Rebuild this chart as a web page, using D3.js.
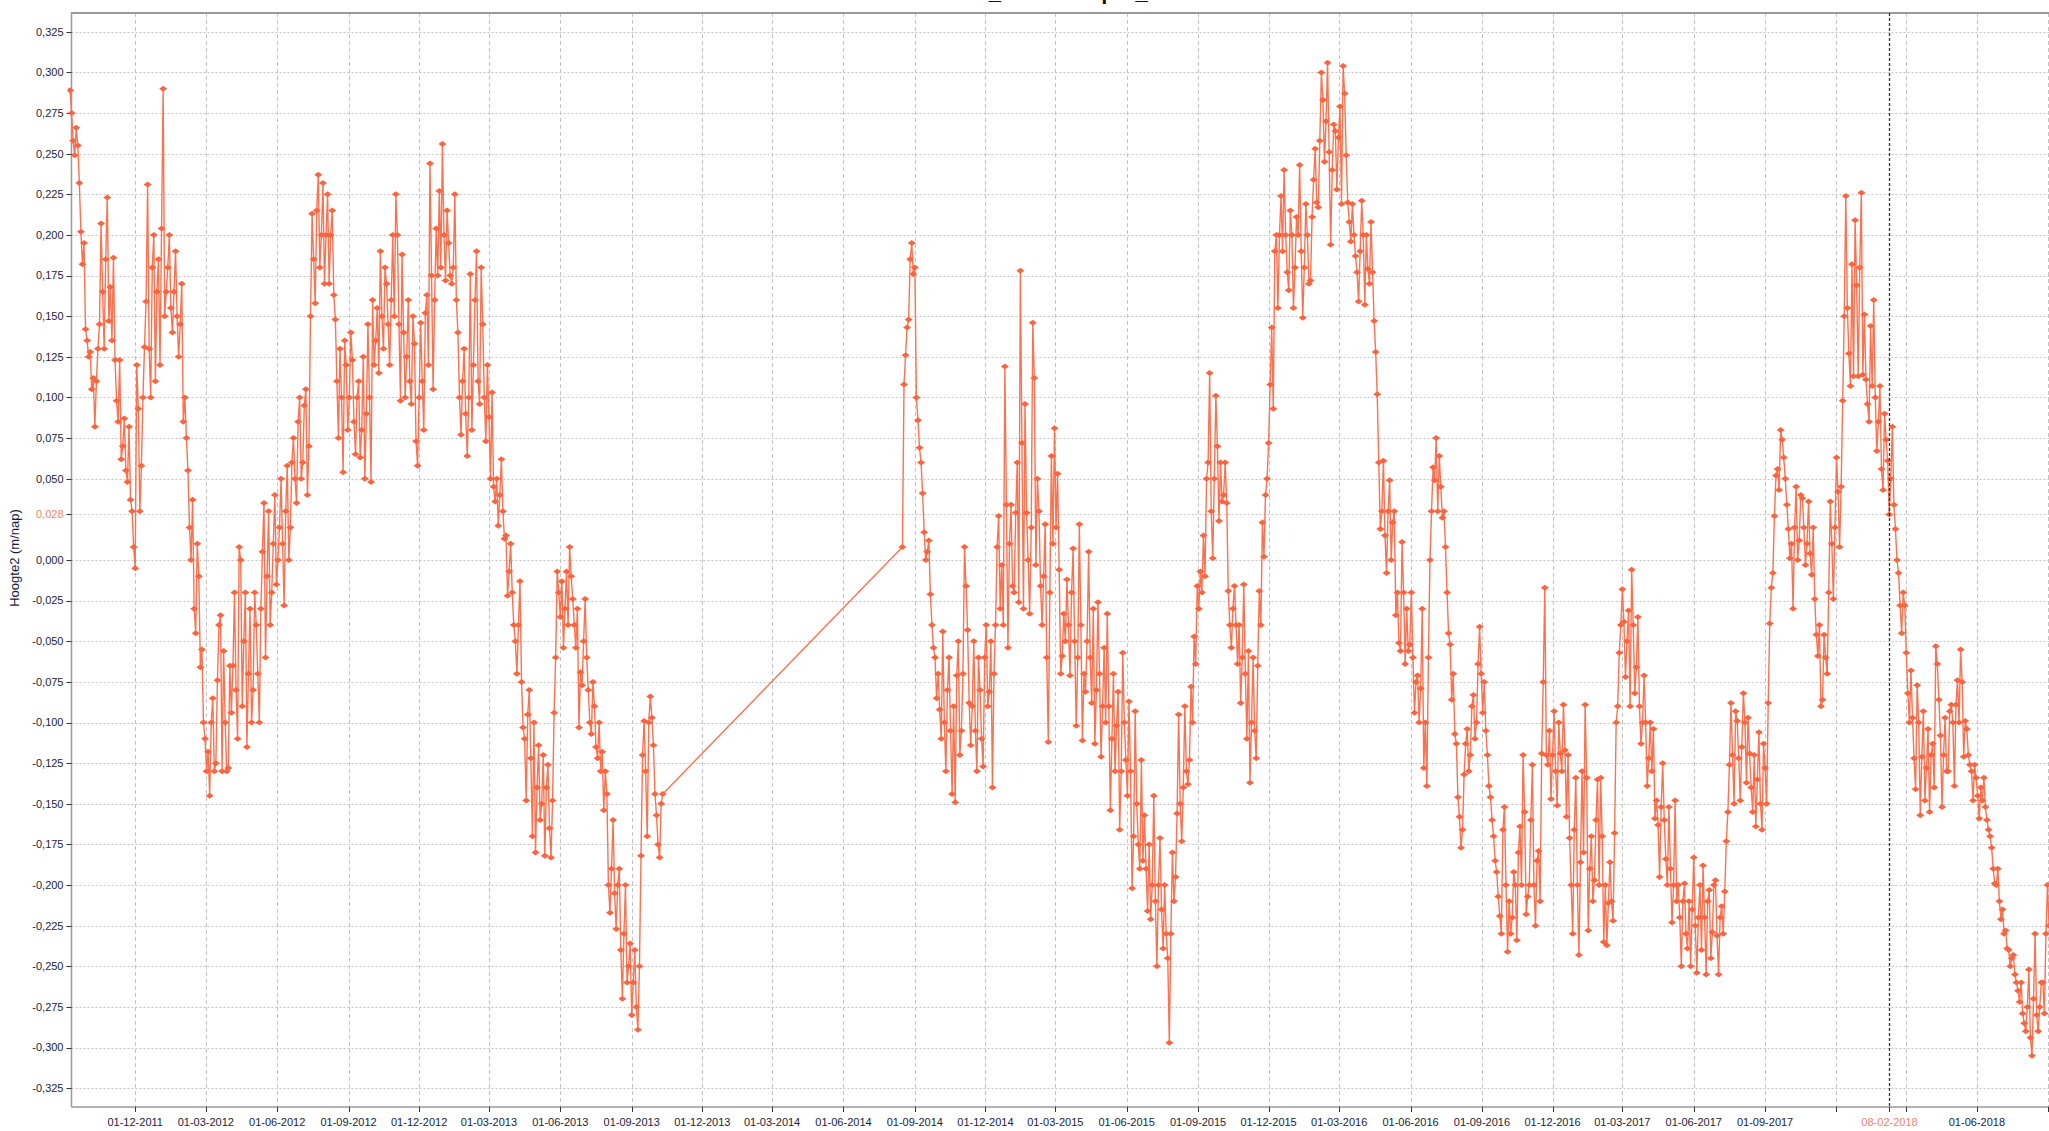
<!DOCTYPE html>
<html>
<head>
<meta charset="utf-8">
<script src="https://cdn.jsdelivr.net/npm/d3@7"></script>
<style>
  html, body { margin: 0; padding: 0; background: #ffffff; }
  svg { display: block; }
</style>
</head>
<body>
<svg id="chart" width="2049" height="1131"></svg>
<script>
// ---------------- DATA ----------------
const titleText = "Grondwaterstand_DE HOEKput_1";
const yAxisLabel = "Hoogte2 (m/nap)";
const SAMPLE_DAYS = 4;

// Series part 1: readings every 4 days from 2011-09-08
const seriesAStart = "2011-09-08";
const seriesA = [
  0.289, 0.258, 0.266, 0.232, 0.182, 0.142,
  0.125, 0.105, 0.082, 0.13, 0.207, 0.13, 0.223, 0.168,
  0.186, 0.098, 0.123, 0.07, 0.055, 0.082, 0.03,
  -0.005, 0.093, 0.058, 0.131, 0.231, 0.1, 0.2, 0.165,
  0.12, 0.29, 0.165, 0.2, 0.14, 0.19, 0.125, 0.17,
  0.1, 0.055, 0.0, -0.03, 0.01, -0.066, -0.1,
  -0.13, -0.145, -0.085, -0.125, -0.04, -0.13, -0.1, -0.128,
  -0.094, -0.02, -0.11, 0.0, -0.05, -0.115, -0.03,
  -0.08, -0.04, -0.1, 0.005, -0.06, 0.03, -0.02, 0.04,
  0.0, 0.05, -0.028, 0.058, 0.02, 0.075, 0.035, 0.1,
  0.06, 0.105, 0.07, 0.213, 0.158, 0.237, 0.2,
  0.17, 0.225, 0.2, 0.163, 0.11, 0.13, 0.054, 0.12,
  0.1, 0.123, 0.065, 0.11, 0.08, 0.05, 0.145, 0.048,
  0.12, 0.155, 0.19, 0.13, 0.17, 0.12, 0.2,
  0.225, 0.145, 0.188, 0.1, 0.16, 0.096, 0.133, 0.058,
  0.146, 0.08, 0.163, 0.244, 0.105, 0.204, 0.227, 0.256,
  0.172, 0.195, 0.17, 0.225, 0.14, 0.077, 0.13,
  0.064, 0.176, 0.12, 0.19, 0.096, 0.145, 0.073,
  0.088, 0.103, 0.036, 0.021, 0.062, 0.013, -0.022, 0.01,
  -0.04, -0.07, -0.013, -0.103, -0.148, -0.08, -0.17, -0.18,
  -0.114, -0.15, -0.182, -0.126, -0.183, -0.094, -0.007,
  -0.035, -0.054, -0.007, 0.008, -0.024, -0.054, -0.103, -0.077,
  -0.024, -0.08, -0.107, -0.09, -0.122, -0.13, -0.154, -0.144,
  -0.217, -0.16, -0.227, -0.19, -0.27, -0.2, -0.25,
  -0.28, -0.24, -0.289, -0.182, -0.099, -0.17, -0.084, -0.114,
  -0.157, -0.183, -0.144
];
// Intermediate readings, every 4 days from 2011-09-10
const seriesAMidStart = "2011-09-10";
const seriesAMid = [
  0.275, 0.249, 0.255, 0.202, 0.195, 0.135,
  0.128, 0.112, 0.11, 0.145, 0.165, 0.185, 0.147, 0.135,
  0.123, 0.085, 0.062, 0.087, 0.048, 0.037, 0.008,
  0.12, 0.03, 0.1, 0.159, 0.13, 0.18, 0.11, 0.185,
  0.204, 0.15, 0.18, 0.155, 0.165, 0.15, 0.145, 0.085,
  0.075, 0.02, 0.037, -0.045, -0.01, -0.055, -0.11,
  -0.118, -0.1, -0.13, -0.074, -0.034, -0.056, -0.13, -0.065,
  -0.065, -0.08, 0.008, -0.09, -0.02, -0.07, -0.1,
  -0.02, -0.07, -0.03, 0.035, -0.01, -0.04, 0.01, -0.015,
  0.02, 0.01, 0.03, 0.0, 0.06, 0.05, 0.085, 0.05,
  0.095, 0.04, 0.15, 0.185, 0.215, 0.18, 0.232,
  0.2, 0.17, 0.215, 0.148, 0.075, 0.1, 0.135, 0.08,
  0.14, 0.085, 0.1, 0.063, 0.125, 0.09, 0.1, 0.16,
  0.135, 0.115, 0.15, 0.18, 0.145, 0.16, 0.15,
  0.2, 0.098, 0.14, 0.125, 0.11, 0.15, 0.073, 0.1,
  0.11, 0.152, 0.12, 0.175, 0.16, 0.175, 0.18, 0.2,
  0.215, 0.175, 0.18, 0.16, 0.1, 0.11, 0.09,
  0.1, 0.08, 0.16, 0.11, 0.18, 0.1, 0.12,
  0.05, 0.045, 0.05, 0.04, 0.03, 0.015, -0.007, -0.02,
  -0.05, -0.04, -0.075, -0.11, -0.095, -0.122, -0.1, -0.14,
  -0.16, -0.12, -0.14, -0.165, -0.148, -0.06, -0.02,
  -0.013, -0.03, -0.04, -0.01, -0.04, -0.03, -0.069, -0.05,
  -0.06, -0.1, -0.075, -0.115, -0.1, -0.118, -0.13, -0.2,
  -0.19, -0.205, -0.2, -0.24, -0.23, -0.26, -0.236,
  -0.26, -0.275, -0.25, -0.12, -0.13, -0.1, -0.097, -0.144,
  -0.175, -0.15
];

// Series part 2: readings every 4 days from 2014-08-16
const seriesBStart = "2014-08-16";
const seriesB = [
  0.008, 0.126, 0.148, 0.195, 0.18, 0.086, 0.06, 0.017, 0.005, -0.021,
  -0.054, -0.085, -0.092, -0.044, -0.13, -0.06, -0.144, -0.149, -0.05, -0.105,
  0.008, -0.043, -0.114, -0.05, -0.13, -0.08, -0.127, -0.04, -0.081, -0.14,
  -0.04, 0.027, -0.003, 0.119, -0.054, 0.034, -0.02, 0.06, 0.178, -0.03,
  0.029, -0.033, 0.146, -0.003, 0.03, -0.04, 0.022, -0.112, 0.064, 0.081,
  0.053, -0.07, -0.033, -0.012, -0.071, 0.007, -0.102, 0.022, -0.111, -0.081,
  0.005, -0.088, -0.113, -0.026, -0.121, -0.054, -0.033, -0.154, -0.07, -0.102,
  -0.166, -0.057, -0.123, -0.087, -0.202, -0.093, -0.175, -0.123, -0.157, -0.216,
  -0.221, -0.145, -0.25, -0.171, -0.239, -0.23, -0.297, -0.18, -0.195, -0.095,
  -0.173, -0.09, -0.138, -0.078, -0.047, -0.016, -0.007, 0.015, 0.05, 0.115,
  0.001, 0.101, 0.024, 0.036, 0.06, -0.019, -0.054, -0.016, -0.064, -0.088,
  -0.015, -0.11, -0.137, -0.06, -0.122, -0.019, 0.023, 0.04, 0.072, 0.143,
  0.19, 0.155, 0.224, 0.24, 0.177, 0.215, 0.155, 0.211, 0.243, 0.149,
  0.219, 0.17, 0.211, 0.253, 0.217, 0.3, 0.245, 0.306, 0.194, 0.268,
  0.228, 0.279, 0.304, 0.249, 0.208, 0.219, 0.187, 0.159, 0.221, 0.157,
  0.179, 0.208, 0.147, 0.102, 0.019, 0.061, -0.008, 0.049, 0.023, -0.034,
  -0.051, 0.011, -0.064, -0.056, -0.02, -0.094, -0.071, -0.079, -0.128, -0.139,
  0.0, 0.057, 0.075, 0.064, 0.026, 0.008, -0.045, -0.086, -0.107, -0.146,
  -0.177, -0.132, -0.104, -0.12, -0.083, -0.1, -0.041, -0.094, -0.105, -0.139,
  -0.16, -0.185, -0.207, -0.23, -0.152, -0.241, -0.23, -0.192, -0.234, -0.164,
  -0.12, -0.218, -0.2, -0.126, -0.225, -0.179, -0.119, -0.017, -0.126, -0.147,
  -0.093, -0.151, -0.119, -0.089, -0.158, -0.171, -0.23, -0.134, -0.243, -0.13,
  -0.089, -0.228, -0.17, -0.197, -0.135, -0.134, -0.235, -0.237, -0.186, -0.222,
  -0.1, -0.057, -0.018, -0.072, -0.031, -0.006, -0.082, -0.035, -0.113, -0.071,
  -0.139, -0.1, -0.104, -0.148, -0.195, -0.125, -0.184, -0.152, -0.223, -0.148,
  -0.2, -0.25, -0.199, -0.239, -0.25, -0.183, -0.254, -0.2, -0.188, -0.255,
  -0.203, -0.229, -0.197, -0.255, -0.213, -0.204, -0.155, -0.088, -0.15, -0.099,
  -0.148, -0.082, -0.137, -0.119, -0.155, -0.164, -0.106, -0.166, -0.128, -0.088,
  -0.017, 0.027, 0.056, 0.08, 0.063, 0.034, 0.001, -0.03, 0.045, 0.012,
  0.038, -0.003, 0.036, -0.009, -0.024, -0.059, -0.09, -0.046, -0.07, 0.036,
  -0.024, 0.063, 0.008, 0.098, 0.224, 0.127, 0.182, 0.209, 0.113, 0.226,
  0.151, 0.096, 0.144, 0.16, 0.067, 0.107, 0.043, 0.074, 0.028, 0.082,
  0.019, -0.008, -0.045, -0.028, -0.082, -0.068, -0.122, -0.077, -0.157, -0.093,
  -0.128, -0.155, -0.113, -0.053, -0.086, -0.152, -0.097, -0.13, -0.089, -0.139,
  -0.074, -0.055, -0.121, -0.104, -0.126, -0.148, -0.134, -0.159, -0.148, -0.152,
  -0.166, -0.177, -0.199, -0.19, -0.221, -0.23, -0.239, -0.25, -0.243, -0.26,
  -0.272, -0.279, -0.29, -0.252, -0.305, -0.23, -0.29, -0.26, -0.279, -0.2,
  -0.2
];
// Intermediate readings, every 4 days from 2014-08-18
const seriesBMidStart = "2014-08-18";
const seriesBMid = [
  0.108, 0.143, 0.185, 0.176, 0.1, 0.069, 0.041, 0.0, 0.012, -0.04,
  -0.06, -0.07, -0.11, -0.1, -0.08, -0.105, -0.09, -0.071, -0.12, -0.07,
  -0.016, -0.088, -0.09, -0.105, -0.06, -0.11, -0.06, -0.09, -0.05, -0.07,
  0.008, -0.03, -0.04, 0.034, 0.01, -0.016, 0.029, -0.026, 0.072, 0.096,
  0.0, 0.02, 0.112, 0.05, -0.016, -0.01, -0.06, -0.02, 0.01, 0.02,
  -0.006, -0.059, -0.05, -0.04, -0.02, -0.05, -0.06, -0.04, -0.07, -0.05,
  -0.06, -0.03, -0.08, -0.07, -0.09, -0.1, -0.09, -0.11, -0.13, -0.081,
  -0.13, -0.1, -0.145, -0.13, -0.17, -0.15, -0.19, -0.185, -0.19, -0.175,
  -0.2, -0.21, -0.2, -0.215, -0.2, -0.245, -0.23, -0.21, -0.156, -0.15,
  -0.14, -0.13, -0.123, -0.1, -0.064, -0.03, -0.02, -0.01, 0.06, 0.03,
  0.05, 0.07, 0.06, 0.04, 0.035, -0.04, -0.03, -0.04, -0.04, -0.06,
  -0.07, -0.056, -0.1, -0.105, -0.065, -0.04, 0.002, 0.05, 0.108, 0.093,
  0.2, 0.2, 0.19, 0.2, 0.166, 0.2, 0.18, 0.2, 0.19, 0.18,
  0.2, 0.172, 0.234, 0.22, 0.258, 0.283, 0.27, 0.251, 0.24, 0.264,
  0.26, 0.219, 0.287, 0.22, 0.196, 0.2, 0.177, 0.19, 0.2, 0.2,
  0.17, 0.177, 0.128, 0.06, 0.03, 0.015, 0.03, 0.0, 0.03, -0.02,
  -0.056, -0.02, -0.03, -0.052, -0.06, -0.075, -0.1, -0.03, -0.1, -0.06,
  0.03, 0.049, 0.03, 0.045, 0.03, -0.02, -0.052, -0.07, -0.113, -0.158,
  -0.166, -0.113, -0.13, -0.09, -0.11, -0.064, -0.07, -0.075, -0.12, -0.146,
  -0.17, -0.192, -0.219, -0.166, -0.2, -0.21, -0.22, -0.2, -0.18, -0.2,
  -0.155, -0.207, -0.16, -0.2, -0.185, -0.21, -0.075, -0.12, -0.105, -0.12,
  -0.13, -0.1, -0.13, -0.117, -0.12, -0.2, -0.166, -0.2, -0.186, -0.18,
  -0.134, -0.19, -0.21, -0.16, -0.2, -0.17, -0.2, -0.211, -0.21, -0.168,
  -0.09, -0.04, -0.038, -0.05, -0.09, -0.04, -0.066, -0.09, -0.1, -0.1,
  -0.122, -0.13, -0.159, -0.163, -0.152, -0.16, -0.2, -0.19, -0.2, -0.21,
  -0.22, -0.21, -0.23, -0.21, -0.215, -0.225, -0.22, -0.24, -0.22, -0.21,
  -0.245, -0.2, -0.231, -0.22, -0.23, -0.173, -0.126, -0.12, -0.093, -0.122,
  -0.115, -0.1, -0.097, -0.14, -0.12, -0.135, -0.15, -0.113, -0.15, -0.039,
  -0.008, 0.052, 0.043, 0.074, 0.05, 0.019, 0.01, 0.02, 0.0, 0.04,
  0.02, 0.01, 0.004, 0.02, -0.046, -0.04, -0.086, -0.06, -0.02, 0.01,
  0.02, 0.042, 0.045, 0.15, 0.155, 0.107, 0.113, 0.169, 0.18, 0.114,
  0.111, 0.085, 0.107, 0.1, 0.085, 0.056, 0.09, 0.061, 0.05, 0.034,
  0.0, -0.028, -0.02, -0.057, -0.1, -0.097, -0.141, -0.1, -0.121, -0.148,
  -0.104, -0.12, -0.14, -0.064, -0.108, -0.12, -0.13, -0.093, -0.1, -0.089,
  -0.1, -0.075, -0.099, -0.12, -0.13, -0.126, -0.145, -0.14, -0.134, -0.16,
  -0.17, -0.19, -0.2, -0.21, -0.215, -0.228, -0.24, -0.245, -0.255, -0.265,
  -0.26, -0.285, -0.275, -0.294, -0.27, -0.28, -0.275, -0.26, -0.23, -0.225
];

// Axis ticks (the 0,025 tick is hidden behind the cursor value label)
const yTickValues = [0.325, 0.3, 0.275, 0.25, 0.225, 0.2, 0.175, 0.15, 0.125, 0.1, 0.075, 0.05, 0,
  -0.025, -0.05, -0.075, -0.1, -0.125, -0.15, -0.175, -0.2, -0.225, -0.25, -0.275, -0.3, -0.325];
const xGridDates = ["2011-12-01","2012-03-01","2012-06-01","2012-09-01","2012-12-01","2013-03-01","2013-06-01",
  "2013-09-01","2013-12-01","2014-03-01","2014-06-01","2014-09-01","2014-12-01","2015-03-01","2015-06-01",
  "2015-09-01","2015-12-01","2016-03-01","2016-06-01","2016-09-01","2016-12-01","2017-03-01","2017-06-01",
  "2017-09-01","2017-12-01","2018-03-01","2018-06-01","2018-09-01"];
const xTickLabels = ["01-12-2011","01-03-2012","01-06-2012","01-09-2012","01-12-2012","01-03-2013","01-06-2013",
  "01-09-2013","01-12-2013","01-03-2014","01-06-2014","01-09-2014","01-12-2014","01-03-2015","01-06-2015",
  "01-09-2015","01-12-2015","01-03-2016","01-06-2016","01-09-2016","01-12-2016","01-03-2017","01-06-2017",
  "01-09-2017","","","01-06-2018",""];

// Cursor (crosshair) position
const cursorDate = "2018-02-08";
const cursorLabel = "08-02-2018";
const cursorValue = 0.028;
const cursorValueLabel = "0,028";

// ---------------- DRAW ----------------
const W = 2049, H = 1131;
const plotLeft = 71.5, plotTop = 13, plotBottom = 1107, plotRight = 2100;
const parse = d3.timeParse("%Y-%m-%d");

const x = d3.scaleTime()
  .domain([parse("2011-12-01"), parse("2018-06-01")])
  .range([135.2, 1976.9]);
const y = d3.scaleLinear().domain([-0.325, 0.325]).range([1088.2, 31.8]);

function build(start, values) {
  const s = parse(start);
  return values.map((v, i) => ({ date: d3.timeDay.offset(s, i * SAMPLE_DAYS), value: v }));
}
const data = build(seriesAStart, seriesA)
  .concat(build(seriesAMidStart, seriesAMid))
  .concat(build(seriesBStart, seriesB))
  .concat(build(seriesBMidStart, seriesBMid))
  .sort((a, b) => a.date - b.date);

const svg = d3.select("#chart");
svg.append("rect").attr("width", W).attr("height", H).attr("fill", "#ffffff");

const fmtY = v => (v < 0 ? "-" : "") + Math.abs(v).toFixed(3).replace(".", ",");
const font = "'Liberation Sans', Arial, sans-serif";
const textColor = "#1c1c3a";
const cursorColor = "#f4836e";

// Title (mostly cut off at the top edge, as in the original)
const title = svg.append("text")
  .attr("y", -1.5)
  .style("font", "bold 22px " + font)
  .attr("fill", "#111")
  .text(titleText);
const us = titleText.indexOf("_");
const preLen = title.node().getSubStringLength(0, us + 1);
title.attr("x", 1001 - preLen);

// Grid
const grid = svg.append("g");
const hGrid = yTickValues.concat([cursorValue]);
grid.selectAll("line.h").data(hGrid).join("line")
  .attr("x1", plotLeft).attr("x2", plotRight)
  .attr("y1", d => Math.round(y(d)) + 0.5).attr("y2", d => Math.round(y(d)) + 0.5)
  .attr("stroke", "#c4c4c4").attr("stroke-width", 1).attr("stroke-dasharray", "2,2");
grid.selectAll("line.v").data(xGridDates).join("line")
  .attr("x1", d => Math.round(x(parse(d))) + 0.5).attr("x2", d => Math.round(x(parse(d))) + 0.5)
  .attr("y1", plotTop).attr("y2", plotBottom)
  .attr("stroke", "#c4c4c4").attr("stroke-width", 1).attr("stroke-dasharray", "4,3");

// Frame
svg.append("line").attr("x1", plotLeft).attr("x2", W).attr("y1", plotTop).attr("y2", plotTop)
  .attr("stroke", "#9a9a9a").attr("stroke-width", 2);
svg.append("line").attr("x1", plotLeft).attr("x2", plotLeft).attr("y1", plotTop - 1).attr("y2", plotBottom)
  .attr("stroke", "#9a9a9a").attr("stroke-width", 1.5);
svg.append("line").attr("x1", plotLeft).attr("x2", W).attr("y1", plotBottom).attr("y2", plotBottom)
  .attr("stroke", "#9a9a9a").attr("stroke-width", 1.5);

// Y axis ticks + labels
const yAxis = svg.append("g");
yAxis.selectAll("line").data(hGrid).join("line")
  .attr("x1", plotLeft - 5).attr("x2", plotLeft)
  .attr("y1", d => Math.round(y(d)) + 0.5).attr("y2", d => Math.round(y(d)) + 0.5)
  .attr("stroke", "#333").attr("stroke-width", 1);
yAxis.selectAll("text.t").data(yTickValues).join("text")
  .attr("class", "t")
  .attr("x", plotLeft - 8).attr("y", d => y(d)).attr("dy", "0.35em")
  .attr("text-anchor", "end").attr("fill", textColor)
  .style("font", "11px " + font).text(fmtY);
yAxis.append("text")
  .attr("x", plotLeft - 8).attr("y", y(cursorValue)).attr("dy", "0.35em")
  .attr("text-anchor", "end").attr("fill", cursorColor)
  .style("font", "11px " + font).text(cursorValueLabel);

// X axis ticks + labels
const xAxis = svg.append("g");
xAxis.selectAll("line").data(xGridDates).join("line")
  .attr("x1", d => Math.round(x(parse(d))) + 0.5).attr("x2", d => Math.round(x(parse(d))) + 0.5)
  .attr("y1", plotBottom).attr("y2", plotBottom + 5)
  .attr("stroke", "#333");
xAxis.selectAll("text").data(xGridDates).join("text")
  .attr("x", d => x(parse(d))).attr("y", plotBottom + 19)
  .attr("text-anchor", "middle").attr("fill", textColor)
  .style("font", "11px " + font)
  .text((d, i) => xTickLabels[i]);

// Y axis title
svg.append("text")
  .attr("transform", "translate(19,558) rotate(-90)")
  .attr("text-anchor", "middle").attr("fill", textColor)
  .style("font", "13px " + font).text(yAxisLabel);

// Series
svg.append("clipPath").attr("id", "plotclip").append("rect")
  .attr("x", plotLeft - 4).attr("y", plotTop).attr("width", W).attr("height", plotBottom - plotTop);
const series = svg.append("g").attr("clip-path", "url(#plotclip)");
const line = d3.line().x(d => x(d.date)).y(d => y(d.value));
series.append("path").datum(data)
  .attr("d", line).attr("fill", "none")
  .attr("stroke", "#fb7250").attr("stroke-width", 1.4);
series.selectAll("path.m").data(data).join("path")
  .attr("class", "m")
  .attr("transform", d => `translate(${x(d.date)},${y(d.value)})`)
  .attr("d", "M-4,0L0,-3L4,0L0,3Z")
  .attr("fill", "#fa6540");

// Cursor vertical line + label
const cx = Math.round(x(parse(cursorDate))) + 0.5;
svg.append("line").attr("x1", cx).attr("x2", cx).attr("y1", plotTop).attr("y2", plotBottom)
  .attr("stroke", "#333").attr("stroke-width", 1.3).attr("stroke-dasharray", "3,2");
svg.append("line").attr("x1", cx).attr("x2", cx).attr("y1", plotBottom).attr("y2", plotBottom + 5)
  .attr("stroke", "#333");
svg.append("text").attr("x", cx).attr("y", plotBottom + 19)
  .attr("text-anchor", "middle").attr("fill", cursorColor)
  .style("font", "11px " + font).text(cursorLabel);
</script>
</body>
</html>
